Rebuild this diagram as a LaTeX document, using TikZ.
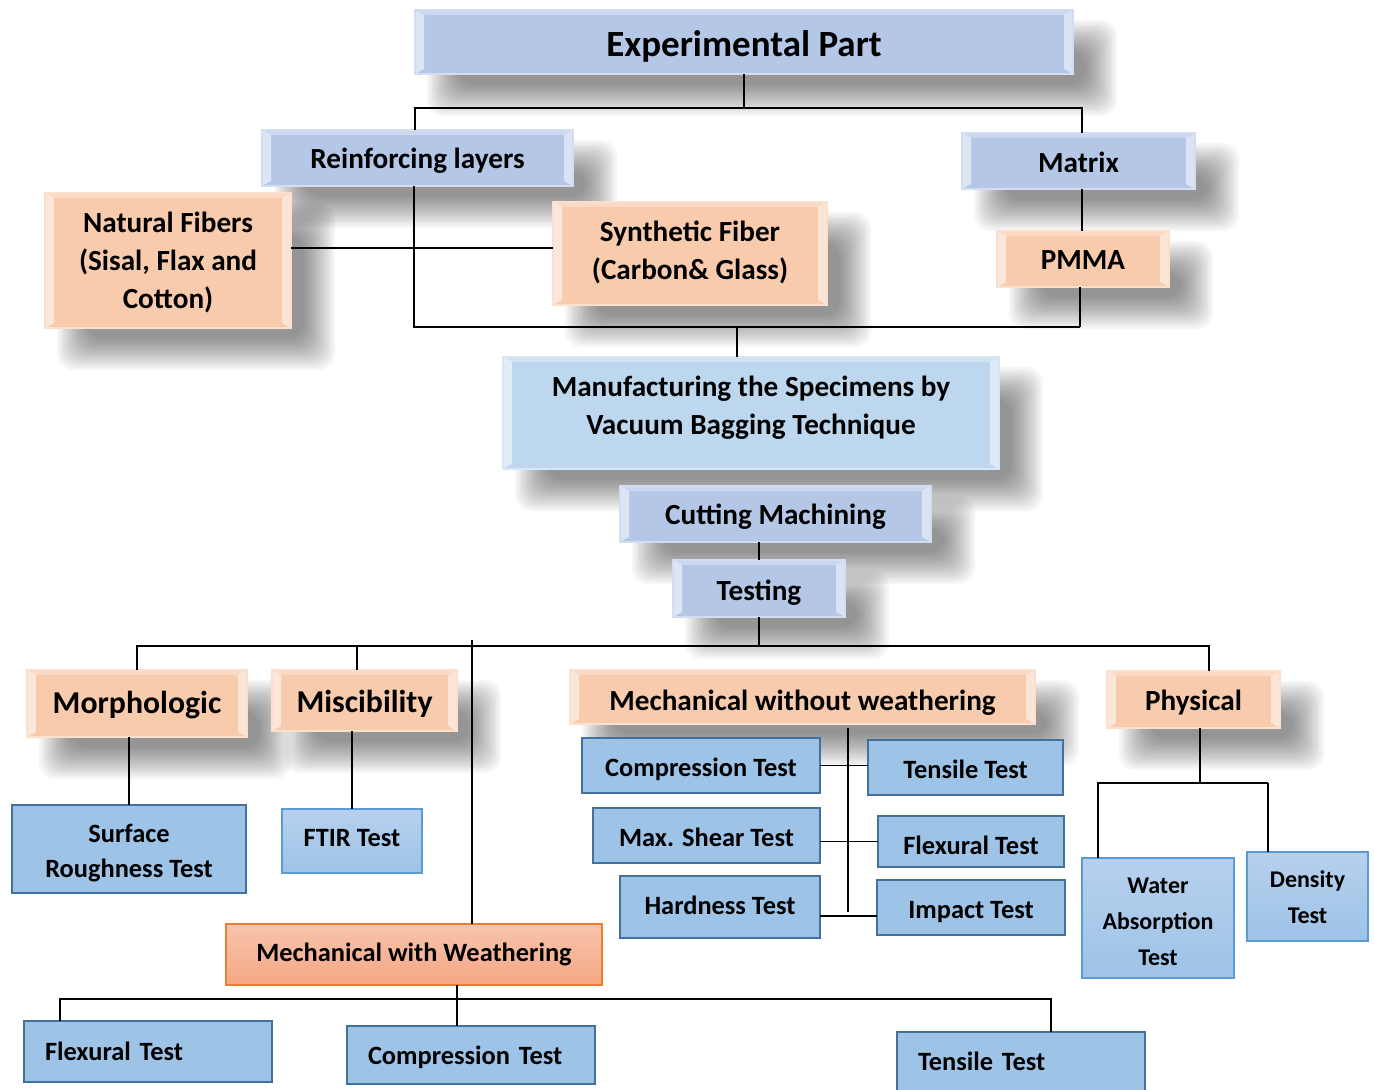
\documentclass[tikz,border=0pt]{standalone}
\usepackage{fontspec}
\setmainfont{Carlito}
\usetikzlibrary{calc,backgrounds}
\definecolor{bxblue}{HTML}{B4C7E7}
\definecolor{bxlblue}{HTML}{BDD7EE}
\definecolor{bxpeach}{HTML}{F8CBAD}
\definecolor{flatblue}{HTML}{9DC3E6}
\definecolor{flatedge}{HTML}{41719C}
\definecolor{gradtop}{HTML}{B8D0EE}
\definecolor{gradedge}{HTML}{5B9BD5}
\definecolor{orgtop}{HTML}{F8C4AC}
\definecolor{orgbot}{HTML}{F4A784}
\definecolor{orgedge}{HTML}{ED7D31}
% name, x0, y0, x1, y1, box style, text style, text
\newcommand\bx[8]{%
  \pgfmathsetmacro\bxcx{(#2+#4)/2}%
  \pgfmathsetmacro\bxcy{(#3+#5)/2}%
  \pgfmathsetmacro\bxw{(#4-#2)*0.5}%
  \pgfmathsetmacro\bxh{(#5-#3)*0.5}%
  \node[#6,minimum width=\bxw pt,minimum height=\bxh pt] (#1) at (\bxcx,\bxcy) {};
  \node[#7] (#1-t) at (#1.center) {#8};}
\newcommand\shad[1]{%
  \foreach \shk in {0,...,13}{%
    \pgfmathsetmacro\shin{-16+2.4*\shk}%
    \fill[black,opacity=0.037,rounded corners=8pt]
      ($(#1.north west)+(28+\shin,26+\shin)$) rectangle ($(#1.south east)+(28-\shin,26-\shin)$);}}
\tikzset{
  bev/.style={fill=#1, draw=#1!60!white, line width=0.6pt, path picture={
    \fill[white,opacity=.55] (path picture bounding box.north west) -- ([xshift=4.5pt,yshift=-2.5pt]path picture bounding box.north west) -- ([xshift=4.5pt,yshift=2.5pt]path picture bounding box.south west) -- (path picture bounding box.south west) -- cycle;
    \fill[white,opacity=.5] (path picture bounding box.north east) -- ([xshift=-4.5pt,yshift=-2.5pt]path picture bounding box.north east) -- ([xshift=-4.5pt,yshift=2.5pt]path picture bounding box.south east) -- (path picture bounding box.south east) -- cycle;
    \fill[white,opacity=.3] (path picture bounding box.north west) -- (path picture bounding box.north east) -- ([xshift=-4.5pt,yshift=-2.5pt]path picture bounding box.north east) -- ([xshift=4.5pt,yshift=-2.5pt]path picture bounding box.north west) -- cycle;
  }},
  flat/.style={fill=flatblue, draw=flatedge, line width=1.2pt},
  gflat/.style={top color=gradtop, bottom color=flatblue, draw=gradedge, line width=0.7pt},
  orng/.style={top color=orgtop, bottom color=orgbot, draw=orgedge, line width=0.8pt},
  lefttxt/.style={text width=#1, align=left},
  ftitle/.style={font=\bfseries\fontsize{18.5}{22}\selectfont},
  fbig/.style={font=\bfseries\fontsize{15.9}{19}\selectfont},
  fmid/.style={font=\bfseries\fontsize{14.6}{19}\selectfont},
  ftest/.style={font=\bfseries\fontsize{13.2}{17.5}\selectfont},
  fsmall/.style={font=\bfseries\fontsize{12}{18}\selectfont},
  thk/.style={line width=1.4pt},
  med/.style={line width=0.9pt},
  hair/.style={line width=0.6pt},
}
\begin{document}
\begin{tikzpicture}[x=0.5pt,y=-0.5pt, every node/.style={inner sep=0pt, outer sep=0pt, align=center}]
\useasboundingbox (0,0) rectangle (1374,1090);
% boxes with bevel
\bx{exp}{415}{10}{1073}{74}{bev=bxblue}{ftitle,yshift=-2pt}{Experimental Part}
\bx{reinf}{262}{130}{573}{186}{bev=bxblue}{fmid,yshift=-1.5pt}{Reinforcing layers}
\bx{matrix}{962}{133}{1195}{189}{bev=bxblue}{fmid,yshift=-0.5pt}{Matrix}
\bx{nat}{45}{193}{291}{328}{bev=bxpeach}{fmid,yshift=-1pt}{Natural Fibers\\(Sisal, Flax and\\Cotton)}
\bx{syn}{553}{202}{827}{305}{bev=bxpeach}{fmid,yshift=0.5pt}{Synthetic Fiber\\(Carbon\& Glass)}
\bx{pmma}{997}{231}{1169}{287}{bev=bxpeach}{fmid,yshift=-0.5pt}{PMMA}
\bx{manu}{503}{357}{999}{469}{bev=bxlblue}{fmid,yshift=2.5pt}{Manufacturing the Specimens by\\Vacuum Bagging Technique}
\bx{cut}{620}{486}{931}{542}{bev=bxblue}{fmid,yshift=-1.5pt}{Cutting Machining}
\bx{test}{673}{560}{845}{617}{bev=bxblue}{fmid,yshift=-2pt}{Testing}
\bx{morph}{27}{670}{247}{737}{bev=bxpeach}{fbig,yshift=-1pt}{Morphologic}
\bx{misc}{272}{670}{457}{731}{bev=bxpeach}{fbig,yshift=-1.5pt}{Miscibility}
\bx{mwo}{570}{670}{1035}{724}{bev=bxpeach}{fmid,yshift=-3pt}{Mechanical without weathering}
\bx{phys}{1107}{671}{1280}{728}{bev=bxpeach}{fmid,yshift=-1.5pt}{Physical}
% flat boxes
\bx{surf}{12}{805}{246}{893}{flat}{ftest,yshift=-2pt}{Surface\\Roughness Test}
\bx{ftir}{282}{809}{422}{873}{gflat}{ftest,yshift=1.5pt}{FTIR Test}
\bx{comp}{582}{738}{820}{793}{flat}{ftest,yshift=-2pt}{Compression Test}
\bx{tens}{868}{740}{1063}{795}{flat}{ftest,yshift=-1pt}{Tensile Test}
\bx{shear}{593}{808}{820}{863}{flat}{ftest,yshift=-1pt}{Max. Shear Test}
\bx{flex}{878}{816}{1064}{867}{flat}{ftest,yshift=-2pt}{Flexural Test}
\bx{hard}{620}{876}{820}{938}{flat}{ftest,yshift=1pt}{Hardness Test}
\bx{imp}{877}{880}{1065}{935}{flat}{ftest,yshift=-2.5pt}{Impact Test}
\bx{water}{1082}{858}{1234}{978}{gflat}{fsmall,yshift=-2pt}{Water\\Absorption\\Test}
\bx{dens}{1247}{852}{1368}{941}{gflat}{fsmall,yshift=-0.5pt}{Density\\Test}
\bx{mww}{226}{924}{602}{985}{orng}{ftest}{Mechanical with Weathering}
\bx{flexb}{24}{1021}{272}{1082}{flat}{ftest,lefttxt=103pt}{Flexural Test}
\bx{compb}{347}{1026}{595}{1084}{flat}{ftest,lefttxt=103pt,yshift=-1pt}{Compression Test}
\bx{tensb}{897}{1032}{1145}{1094}{flat}{ftest,lefttxt=103pt,yshift=1pt}{Tensile Test}
% shadows
\begin{scope}[on background layer]
\fill[white] (0,0) rectangle (1374,1090);
\foreach \nn in {exp,reinf,matrix,nat,syn,pmma,manu,cut,test,morph,misc,mwo,phys}{\shad{\nn}}
\end{scope}
% connectors
\coordinate (b1) at (746,108);
\coordinate (rx) at (415,108);
\coordinate (mx) at (1082,108);
\draw[thk] (exp.south) -- (exp.south |- b1);
\draw[thk] (rx |- reinf.north) -- (rx) -- (mx) -- (mx |- matrix.north);
\coordinate (b2) at (737,327);
\coordinate (rb) at (414,327);
\coordinate (pb) at (1080,327);
\draw[med] (rb |- reinf.south) -- (rb) -- (pb);
\draw[thk] (pb |- pmma.south) -- (pb);
\draw[hair] (b2) -- (b2 |- manu.north);
\coordinate (nsy) at (0,248);
\draw[hair] (nat.east |- nsy) -- (syn.west |- nsy);
\draw[thk] (mx |- matrix.south) -- (mx |- pmma.north);
\draw[hair] (test.north |- cut.south) -- (test.north);
\coordinate (b3) at (760,646);
\coordinate (b3R) at (1209,646);
\draw[thk] (test.south) -- (test.south |- b3);
\draw[thk] (morph.north) -- (morph.north |- b3) -- (b3R) -- (b3R |- phys.north);
\coordinate (mscx) at (357,646);
\draw[med] (mscx) -- (mscx |- misc.north);
\coordinate (mwt) at (472,640);
\draw[med] (mwt) -- (mwt |- mww.north);
\draw[thk] (surf.north |- morph.south) -- (surf.north);
\draw[thk] (ftir.north |- misc.south) -- (ftir.north);
\coordinate (mv) at (848,728);
\coordinate (mvb) at (848,912);
\draw[med] (mv) -- (mvb);
\draw[hair] (comp.east) -- (comp.east -| tens.west);
\draw[hair] (flex.west -| shear.east) -- (flex.west);
\coordinate (hy) at (0,916);
\draw[hair] (hard.east |- hy) -- (imp.west |- hy);
\coordinate (pv) at (1200,783);
\draw[thk] (pv |- phys.south) -- (pv);
\coordinate (pL) at (1098,783);
\coordinate (pR) at (1268,783);
\draw[thk] (pL |- water.north) -- (pL) -- (pR);
\draw[med] (pR) -- (pR |- dens.north);
\coordinate (wL) at (60,999);
\coordinate (wR) at (1051,999);
\coordinate (wc) at (457,999);
\draw[med] (wc |- mww.south) -- (wc);
\draw[med] (wL |- flexb.north) -- (wL) -- (wR) -- (wR |- tensb.north);
\draw[med] (wc) -- (wc |- compb.north);
\end{tikzpicture}
\end{document}
